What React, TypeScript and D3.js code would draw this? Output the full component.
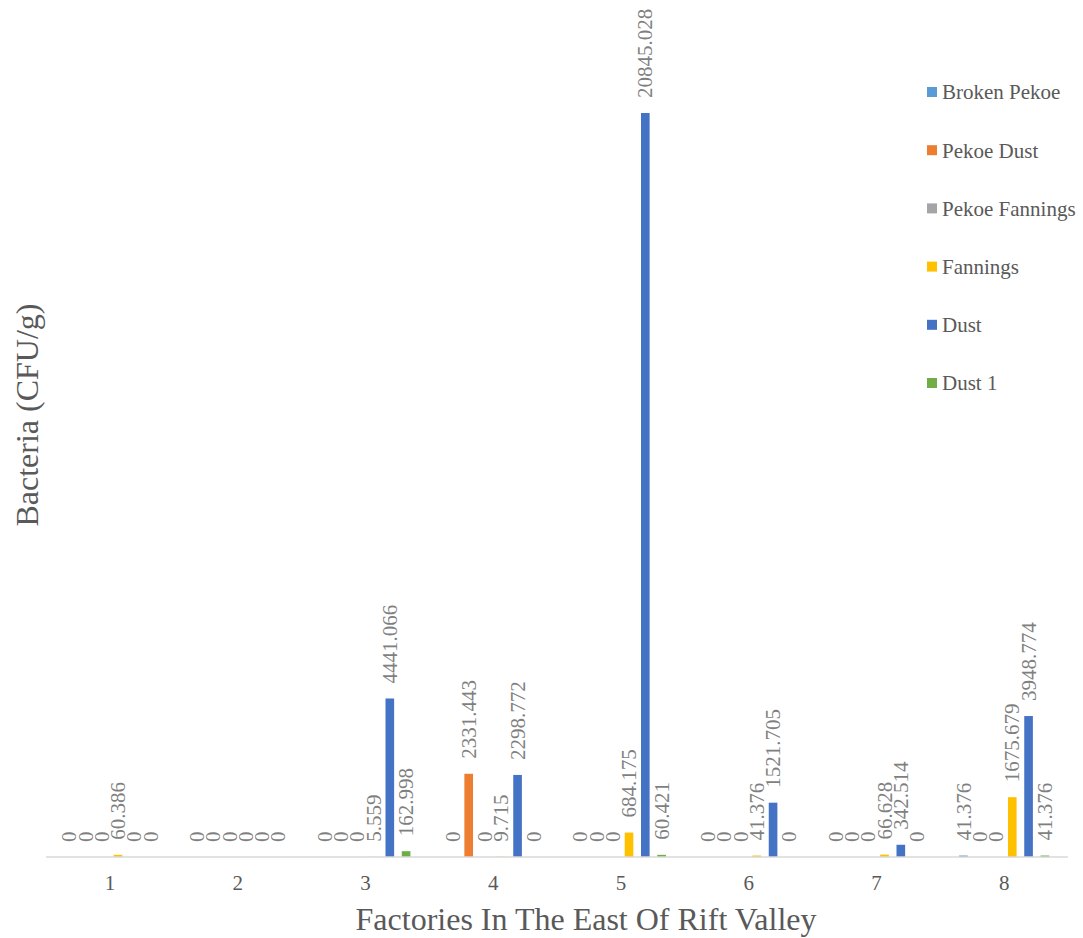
import React from "react";
import * as d3 from "d3";

const factories = ["1", "2", "3", "4", "5", "6", "7", "8"];
const seriesNames = ["Broken Pekoe", "Pekoe Dust", "Pekoe Fannings", "Fannings", "Dust", "Dust 1"];
const seriesColors = ["#5B9BD5", "#ED7D31", "#A5A5A5", "#FFC000", "#4472C4", "#70AD47"];

const brokenPekoe = [0, 0, 0, 0, 0, 0, 0, 41.376];
const pekoeDust = [0, 0, 0, 2331.443, 0, 0, 0, 0];
const pekoeFannings = [0, 0, 0, 0, 0, 0, 0, 0];
const fannings = [60.386, 0, 5.559, 9.715, 684.175, 41.376, 66.628, 1675.679];
const dust = [0, 0, 4441.066, 2298.772, 20845.028, 1521.705, 342.514, 3948.774];
const dust1 = [0, 0, 162.998, 0, 60.421, 0, 0, 41.376];

const seriesValues = [brokenPekoe, pekoeDust, pekoeFannings, fannings, dust, dust1];

const W = 1083;
const H = 938;
const FONT = "'Liberation Serif', 'Times New Roman', serif";
const TEXT = "#595959";

export default function App() {
  const x0 = d3.scaleBand<string>().domain(factories).range([46, 1068]).paddingInner(0).paddingOuter(0);
  const x1 = d3
    .scaleBand<string>()
    .domain(seriesNames)
    .range([15, x0.bandwidth() - 15])
    .paddingInner(0.47)
    .paddingOuter(0.235);
  const maxVal = d3.max(seriesValues.flat()) as number;
  const y = d3.scaleLinear().domain([0, maxVal]).range([857, 113]);

  return (
    <svg
      width={W}
      height={H}
      style={{ position: "absolute", left: 0, top: 0, background: "#fff" }}
      fontFamily={FONT}
    >
      <rect width={W} height={H} fill="#fff" />
      {/* bars */}
      {factories.map((f, i) => (
        <g key={f} transform={`translate(${x0(f)},0)`}>
          {seriesNames.map((s, k) => {
            const v = seriesValues[k][i];
            return (
              <rect
                key={s}
                x={x1(s)}
                y={y(v)}
                width={x1.bandwidth()}
                height={y(0) - y(v)}
                fill={seriesColors[k]}
              />
            );
          })}
        </g>
      ))}
      {/* baseline */}
      <line x1={46} x2={1068} y1={y(0)} y2={y(0)} stroke="#D9D9D9" strokeWidth={1.5} />
      {/* value labels */}
      {factories.map((f, i) => (
        <g key={f} transform={`translate(${x0(f)},0)`}>
          {seriesNames.map((s, k) => {
            const v = seriesValues[k][i];
            const cx = (x1(s) as number) + x1.bandwidth() / 2;
            const ty = y(v) - 15;
            return (
              <text
                key={s}
                transform={`translate(${cx},${ty}) rotate(-90)`}
                dy="0.34em"
                fontSize={21}
                fill="#7F7F7F"
              >
                {String(v)}
              </text>
            );
          })}
        </g>
      ))}
      {/* category ticks */}
      {factories.map((f) => (
        <text
          key={f}
          x={(x0(f) as number) + x0.bandwidth() / 2}
          y={890}
          textAnchor="middle"
          fontSize={21}
          fill={TEXT}
        >
          {f}
        </text>
      ))}
      {/* axis titles */}
      <text x={586} y={930} textAnchor="middle" fontSize={32} fill={TEXT}>
        Factories In The East Of Rift Valley
      </text>
      <text
        transform={`translate(38,415) rotate(-90)`}
        textAnchor="middle"
        fontSize={32}
        fill={TEXT}
      >
        Bacteria (CFU/g)
      </text>
      {/* legend */}
      {seriesNames.map((s, k) => {
        const ly = 92 + k * 58.2;
        return (
          <g key={s}>
            <rect x={927} y={ly - 5} width={10} height={10} fill={seriesColors[k]} />
            <text x={942} y={ly} dy="0.35em" fontSize={21} fill={TEXT}>
              {s}
            </text>
          </g>
        );
      })}
    </svg>
  );
}
